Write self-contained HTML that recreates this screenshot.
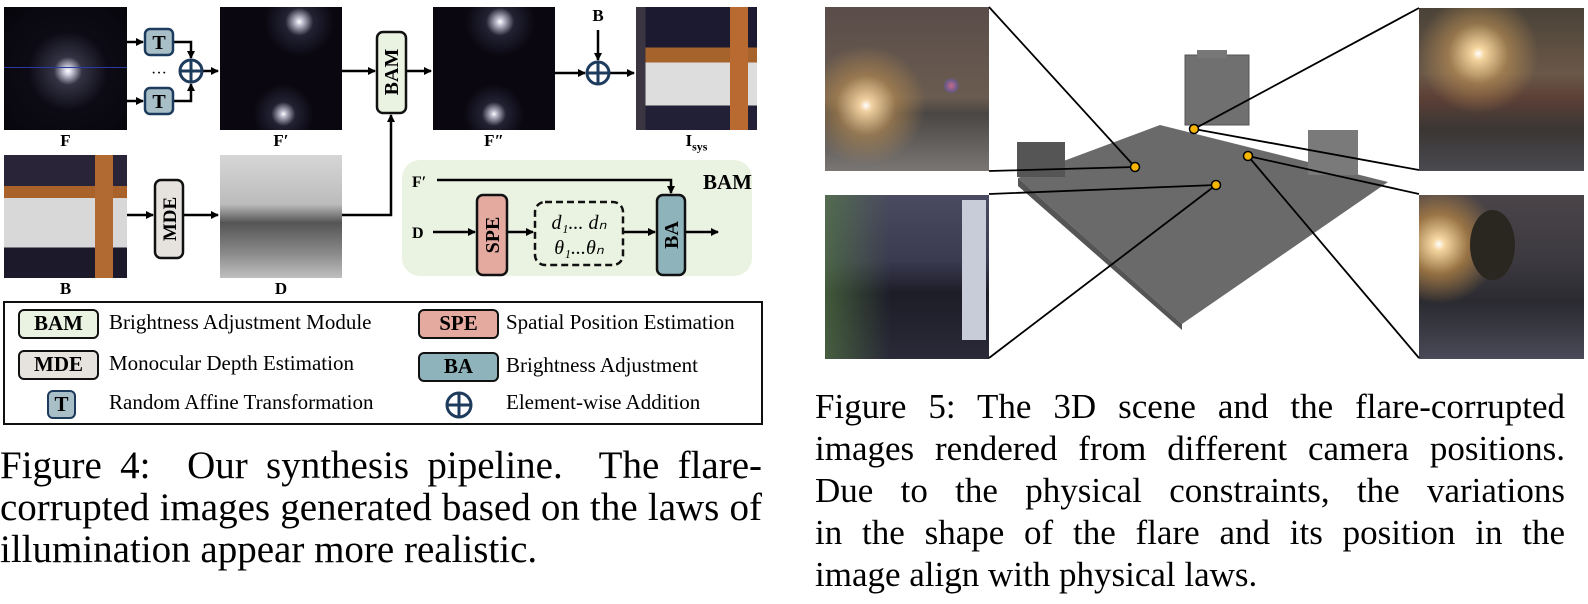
<!DOCTYPE html>
<html><head><meta charset="utf-8"><style>
body{margin:0;width:1588px;height:604px;background:#fff;position:relative;overflow:hidden;font-family:"Liberation Serif",serif;}
.a{position:absolute;}
.lbl{position:absolute;font-weight:bold;font-size:17px;text-align:center;}
.cl{position:absolute;font-size:39px;line-height:42px;height:42px;text-align:justify;text-align-last:justify;white-space:nowrap;color:#000;}
.cr{position:absolute;font-size:35px;line-height:42px;height:42px;text-align:justify;text-align-last:justify;white-space:nowrap;color:#000;}
.leg{position:absolute;font-size:21px;}
.lb{position:absolute;border:2.5px solid #111;border-radius:6px;font-weight:bold;font-size:21px;text-align:center;line-height:25px;box-sizing:border-box;}
</style></head><body>
<div class="a" style="left:4px;top:7px;width:123px;height:123px;background:radial-gradient(circle at 52% 52%,#fff 0,#ccd 4px,#334 14px,#0c0a14 40px,#08060c 90px);"></div>
<div class="a" style="left:4px;top:67px;width:123px;height:1px;background:#2a3aa0;"></div>
<div class="a" style="left:220px;top:7px;width:122px;height:123px;background:radial-gradient(circle at 65% 12%,#fff 0,#bbc 4px,#223 14px,transparent 35px),radial-gradient(circle at 52% 87%,#fff 0,#bbc 3px,#223 12px,transparent 30px),#0a0710;"></div>
<div class="a" style="left:433px;top:7px;width:122px;height:123px;background:radial-gradient(circle at 55% 12%,#fff 0,#bbc 4px,#223 14px,transparent 35px),radial-gradient(circle at 50% 87%,#fff 0,#bbc 3px,#223 12px,transparent 30px),#0a0710;"></div>
<div class="a" style="left:636px;top:7px;width:121px;height:123px;background:linear-gradient(90deg,#3a3540 0,#3a3540 8%,transparent 8%),linear-gradient(180deg,#1c1a30 0,#1c1a30 33%,#a7632c 33%,#a7632c 45%,#ddd 45%,#ddd 80%,#222036 80%);"></div>
<div class="a" style="left:730px;top:7px;width:18px;height:123px;background:#b86a30;"></div>
<div class="a" style="left:4px;top:155px;width:123px;height:123px;background:linear-gradient(180deg,#2a2438 0,#2a2438 25%,#a9622a 25%,#a9622a 35%,#d8d8d8 35%,#d8d8d8 75%,#1c1a2a 75%);"></div>
<div class="a" style="left:95px;top:155px;width:18px;height:123px;background:#b06a32;"></div>
<div class="a" style="left:220px;top:155px;width:122px;height:123px;background:linear-gradient(180deg,#d6d6d6 0,#bcbcbc 40%,#555 55%,#8a8a8a 80%,#c0c0c0 100%);"></div>
<div class="lbl" style="left:4px;top:131px;width:123px;">F</div>
<div class="lbl" style="left:220px;top:131px;width:122px;">F′</div>
<div class="lbl" style="left:433px;top:131px;width:122px;">F″</div>
<div class="lbl" style="left:636px;top:131px;width:121px;">I<sub style="font-size:12px">sys</sub></div>
<div class="lbl" style="left:4px;top:279px;width:123px;">B</div>
<div class="lbl" style="left:220px;top:279px;width:122px;">D</div>
<div class="lbl" style="left:586px;top:6px;width:24px;">B</div>
<div class="a" style="left:402px;top:160px;width:350px;height:116px;background:#eaf2e2;border-radius:18px;"></div>
<svg class="a" style="left:0;top:0" width="800" height="300">
<defs><marker id="ar" markerWidth="8" markerHeight="8" refX="7" refY="4" orient="auto" markerUnits="userSpaceOnUse"><path d="M0,0 L8,4 L0,8z" fill="#000"/></marker></defs>
<g stroke="#000" stroke-width="2.5" fill="none">
<path d="M127,42 H143" marker-end="url(#ar)"/><path d="M127,101 H143" marker-end="url(#ar)"/>
<path d="M173,42 H191 V58" marker-end="url(#ar)"/><path d="M173,101 H191 V84" marker-end="url(#ar)"/>
<path d="M202,71 H218" marker-end="url(#ar)"/>
<path d="M342,71 H375" marker-end="url(#ar)"/><path d="M406,71 H431" marker-end="url(#ar)"/>
<path d="M555,73 H585" marker-end="url(#ar)"/><path d="M598,30 V60" marker-end="url(#ar)"/><path d="M609,73 H634" marker-end="url(#ar)"/>
<path d="M127,215 H153" marker-end="url(#ar)"/><path d="M183,215 H218" marker-end="url(#ar)"/>
<path d="M342,215 H391 V115" marker-end="url(#ar)"/>
<path d="M437,180 H671 V193" marker-end="url(#ar)"/>
<path d="M433,232 H475" marker-end="url(#ar)"/><path d="M507,232 H533" marker-end="url(#ar)"/>
<path d="M623,232 H655" marker-end="url(#ar)"/><path d="M685,232 H718" marker-end="url(#ar)"/>
</g>
<g stroke="#1d3b5c" stroke-width="3" fill="none">
<circle cx="191" cy="71" r="11"/><path d="M180,71 H202 M191,60 V82"/>
<circle cx="598" cy="73" r="11"/><path d="M587,73 H609 M598,62 V84"/>
</g>
<rect x="145" y="29" width="28" height="26" rx="5" fill="#a9bfc8" stroke="#1d3b5c" stroke-width="2.5"/>
<rect x="145" y="88" width="28" height="26" rx="5" fill="#a9bfc8" stroke="#1d3b5c" stroke-width="2.5"/>
<text x="159" y="49" font-family="Liberation Serif" font-weight="bold" font-size="20" text-anchor="middle">T</text>
<text x="159" y="108" font-family="Liberation Serif" font-weight="bold" font-size="20" text-anchor="middle">T</text>
<text x="159" y="78" font-family="Liberation Serif" font-size="16" text-anchor="middle">···</text>
<rect x="377" y="32" width="29" height="81" rx="6" fill="#eaf2e2" stroke="#111" stroke-width="2.5"/>
<text transform="translate(398,72) rotate(-90)" font-family="Liberation Serif" font-weight="bold" font-size="20" text-anchor="middle">BAM</text>
<rect x="155" y="180" width="28" height="78" rx="6" fill="#e6e3de" stroke="#111" stroke-width="2.5"/>
<text transform="translate(176,219) rotate(-90)" font-family="Liberation Serif" font-weight="bold" font-size="19" text-anchor="middle">MDE</text>
<rect x="477" y="195" width="30" height="80" rx="6" fill="#e4aaa0" stroke="#111" stroke-width="2.5"/>
<text transform="translate(499,235) rotate(-90)" font-family="Liberation Serif" font-weight="bold" font-size="20" text-anchor="middle">SPE</text>
<rect x="657" y="195" width="28" height="80" rx="6" fill="#8fb3bb" stroke="#111" stroke-width="2.5"/>
<text transform="translate(678,235) rotate(-90)" font-family="Liberation Serif" font-weight="bold" font-size="20" text-anchor="middle">BA</text>
<rect x="535" y="202" width="88" height="63" rx="10" fill="none" stroke="#111" stroke-width="2.5" stroke-dasharray="7,4"/>
<text x="579" y="229" font-family="Liberation Serif" font-style="italic" font-size="20" text-anchor="middle">d₁... dₙ</text>
<text x="579" y="254" font-family="Liberation Serif" font-style="italic" font-size="20" text-anchor="middle">θ₁...θₙ</text>
<text x="412" y="187" font-family="Liberation Serif" font-weight="bold" font-size="16">F′</text>
<text x="412" y="238" font-family="Liberation Serif" font-weight="bold" font-size="16">D</text>
<text x="703" y="189" font-family="Liberation Serif" font-weight="bold" font-size="21">BAM</text>
</svg>
<div class="a" style="left:3px;top:301px;width:760px;height:124px;border:2.5px solid #111;box-sizing:border-box;"></div>
<div class="lb" style="left:18px;top:309px;width:81px;height:30px;background:#eaf2e2;">BAM</div>
<div class="lb" style="left:18px;top:350px;width:81px;height:30px;background:#e6e3de;">MDE</div>
<div class="lb" style="left:47px;top:390px;width:29px;height:29px;background:#a9bfc8;border-color:#1d3b5c;">T</div>
<div class="lb" style="left:418px;top:309px;width:81px;height:30px;background:#e4aaa0;">SPE</div>
<div class="lb" style="left:418px;top:352px;width:81px;height:30px;background:#8fb3bb;">BA</div>
<svg class="a" style="left:444px;top:390px" width="30" height="30"><g stroke="#1d3b5c" stroke-width="3" fill="none"><circle cx="15" cy="15" r="12"/><path d="M3,15 H27 M15,3 V27"/></g></svg>
<div class="leg" style="left:109px;top:310px;">Brightness Adjustment Module</div>
<div class="leg" style="left:109px;top:351px;">Monocular Depth Estimation</div>
<div class="leg" style="left:109px;top:390px;">Random Affine Transformation</div>
<div class="leg" style="left:506px;top:310px;">Spatial Position Estimation</div>
<div class="leg" style="left:506px;top:353px;">Brightness Adjustment</div>
<div class="leg" style="left:506px;top:390px;">Element-wise Addition</div>
<div class="cl" style="left:0;top:445px;width:762px;">Figure 4:&nbsp; Our synthesis pipeline.&nbsp; The flare-</div>
<div class="cl" style="left:0;top:487px;width:762px;">corrupted images generated based on the laws of</div>
<div class="a" style="left:0;top:529px;font-size:39px;line-height:42px;white-space:nowrap;">illumination appear more realistic.</div>
<div class="a" style="left:825px;top:7px;width:164px;height:164px;background:radial-gradient(circle at 77% 48%,#c56a8a 0,#6a5a8a 6px,transparent 8px),radial-gradient(circle at 25% 60%,#fff 0,#f0d0a0 6px,rgba(200,150,80,.5) 30px,transparent 60px),linear-gradient(180deg,#5a4d4a 0,#6a5c50 55%,#4a4644 65%,#7a7674 100%);"></div>
<div class="a" style="left:825px;top:195px;width:164px;height:164px;background:linear-gradient(90deg,rgba(90,130,70,.6),transparent 40%),linear-gradient(180deg,#4a4a60 0,#3a3a50 40%,#1d1d28 60%,#2a2a38 100%);"></div>
<div class="a" style="left:962px;top:200px;width:24px;height:140px;background:#c8ccd8;"></div>
<div class="a" style="left:1419px;top:8px;width:165px;height:163px;background:radial-gradient(circle at 36% 28%,#fff 0,#f5d6a0 6px,rgba(210,160,90,.5) 30px,transparent 60px),linear-gradient(180deg,#4a4238 0,#6a5848 40%,#5c4036 55%,#3a3634 75%,#4a4a50 100%);"></div>
<div class="a" style="left:1419px;top:195px;width:165px;height:164px;background:radial-gradient(circle at 12% 30%,#fff 0,#f5d6a0 6px,rgba(210,150,70,.6) 30px,transparent 60px),linear-gradient(180deg,#4a4448 0,#3c3a40 40%,#2a2a30 65%,#4a4a58 100%);"></div>
<div class="a" style="left:1470px;top:210px;width:45px;height:70px;border-radius:50%;background:#2a2620;"></div>
<svg class="a" style="left:0;top:0" width="1588" height="604">
<polygon points="1018,178 1160,125 1388,182 1182,324" fill="#6a6a6a"/>
<polygon points="1018,178 1182,324 1182,330 1018,186" fill="#555"/>
<rect x="1185" y="55" width="64" height="70" fill="#707070" stroke="#555"/>
<rect x="1197" y="50" width="30" height="8" fill="#777"/>
<rect x="1308" y="130" width="50" height="45" fill="#7a7a7a"/>
<rect x="1017" y="142" width="48" height="35" fill="#555"/>
<g stroke="#000" stroke-width="1.8" fill="none">
<path d="M989,7 L1135,167 M989,171 L1135,167 M989,194 L1216,185 M989,358 L1216,185 M1419,8 L1194,129 M1419,170 L1194,129 M1419,194 L1248,156 M1419,358 L1248,156"/>
</g>
<g fill="#f7b500" stroke="#000" stroke-width="1.5">
<circle cx="1135" cy="167" r="4.5"/><circle cx="1194" cy="129" r="4.5"/><circle cx="1248" cy="156" r="4.5"/><circle cx="1216" cy="185" r="4.5"/>
</g>
</svg>
<div class="cr" style="left:815px;top:386px;width:750px;">Figure 5: The 3D scene and the flare-corrupted</div>
<div class="cr" style="left:815px;top:428px;width:750px;">images rendered from different camera positions.</div>
<div class="cr" style="left:815px;top:470px;width:750px;">Due to the physical constraints, the variations</div>
<div class="cr" style="left:815px;top:512px;width:750px;">in the shape of the flare and its position in the</div>
<div class="a" style="left:815px;top:554px;font-size:35px;line-height:42px;white-space:nowrap;">image align with physical laws.</div>
</body></html>
